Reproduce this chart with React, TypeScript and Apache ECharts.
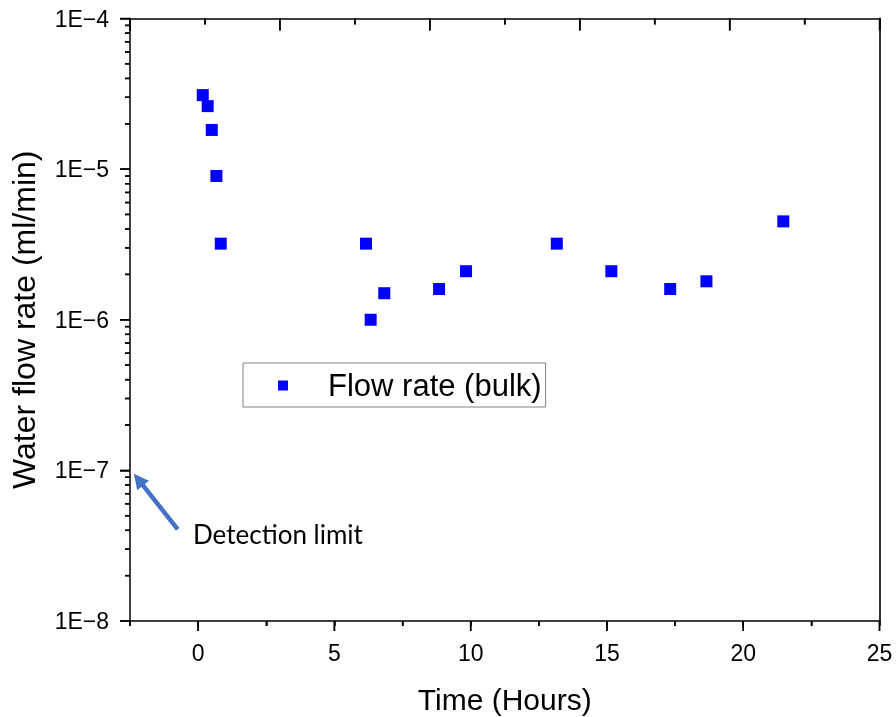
import React, { useEffect, useRef } from 'react';
import * as echarts from 'echarts';

// ---- data ----
const timeHours = [0.17, 0.35, 0.5, 0.67, 0.83, 6.16, 6.33, 6.83, 8.84, 9.83, 13.16, 15.16, 17.32, 18.65, 21.47];
const flowRate = [3.1e-5, 2.62e-5, 1.82e-5, 9.0e-6, 3.2e-6, 3.2e-6, 1.0e-6, 1.5e-6, 1.6e-6, 2.1e-6, 3.2e-6, 2.1e-6, 1.6e-6, 1.8e-6, 4.5e-6];
const seriesName = 'Flow rate (bulk)';
const xMajorTicks = [0, 5, 10, 15, 20, 25];
const xMinorTicks = [-2.5, 2.5, 7.5, 12.5, 17.5, 22.5];
const topMajorTicks = [0, 1, 2, 3, 4, 5];
const topMinorTicks = [0.5, 1.5, 2.5, 3.5, 4.5];
const yDecades = [1e-8, 1e-7, 1e-6, 1e-5, 1e-4];
const yMinorMultipliers = [2, 3, 4, 5, 6, 7, 8, 9];
const arrowTail = [-0.75, 4.06e-8];
const arrowTip = [-2.36, 9.5e-8];
const annotationText = 'Detection limit';

const FONT = '"Liberation Sans", Arial, sans-serif';
const X_MIN = -2.5;
const X_MAX = 25;
const Y_MIN = 1e-8;
const Y_MAX = 1e-4;

export default function App() {
  const ref = useRef<HTMLDivElement>(null);
  useEffect(() => {
    if (!ref.current) return;
    const chart = echarts.init(ref.current, null, { renderer: 'svg' });

    const yMinorValues: number[] = [];
    yDecades.slice(0, -1).forEach((d) => yMinorMultipliers.forEach((m) => yMinorValues.push(m * d)));

    const option: any = {
      animation: false,
      grid: { left: 130, right: 16.5, top: 18.5, bottom: 96, containLabel: false, outerBoundsMode: 'none' },
      legend: {
        data: [seriesName],
        left: 243,
        top: 363,
        icon: 'rect',
        itemWidth: 10,
        itemHeight: 10,
        borderColor: '#808080',
        borderWidth: 1,
        padding: [7, 4, 6, 35],
        textStyle: { fontSize: 31, color: '#000', fontFamily: FONT, padding: [0, 0, 0, 35] },
      },
      xAxis: [
        {
          type: 'value',
          position: 'bottom',
          min: X_MIN,
          max: X_MAX,
          interval: 2.5,
          name: 'Time (Hours)',
          nameLocation: 'middle',
          nameGap: 63,
          nameTextStyle: { fontSize: 30, color: '#000', fontFamily: FONT },
          axisLine: { show: true, onZero: false, lineStyle: { color: '#000', width: 1.5 } },
          axisTick: { show: true, inside: false, length: 5, lineStyle: { color: '#000', width: 1.5 } },
          axisLabel: {
            fontSize: 23,
            color: '#000',
            margin: 20,
            fontFamily: FONT,
            formatter: (v: number) => (xMajorTicks.indexOf(v) >= 0 ? String(v) : ''),
          },
          splitLine: { show: false },
        },
        {
          type: 'value',
          position: 'top',
          min: 0,
          max: 5,
          interval: 1,
          axisLine: { show: true, onZero: false, lineStyle: { color: '#000', width: 1.5 } },
          axisTick: { show: true, inside: true, length: 12, lineStyle: { color: '#000', width: 1.5 } },
          minorTick: { show: true, splitNumber: 2, length: 6, lineStyle: { color: '#000', width: 1.5 } },
          axisLabel: { show: false },
          splitLine: { show: false },
        },
      ],
      yAxis: [
        {
          type: 'log',
          logBase: 10,
          min: Y_MIN,
          max: Y_MAX,
          name: 'Water flow rate (ml/min)',
          nameLocation: 'middle',
          nameGap: 90,
          nameTextStyle: { fontSize: 32, color: '#000', fontFamily: FONT },
          axisLine: { show: true, onZero: false, lineStyle: { color: '#000', width: 1.5 } },
          axisTick: { show: true, inside: false, length: 10, lineStyle: { color: '#000', width: 1.5 } },
          axisLabel: {
            fontSize: 23,
            color: '#000',
            margin: 21,
            fontFamily: FONT,
            formatter: (v: number) => '1E\u2212' + Math.abs(Math.round(Math.log10(v))),
          },
          splitLine: { show: false },
        },
        {
          type: 'value',
          position: 'right',
          min: 0,
          max: 1,
          axisLine: { show: true, onZero: false, lineStyle: { color: '#333', width: 2 } },
          axisTick: { show: false },
          axisLabel: { show: false },
          splitLine: { show: false },
        },
      ],
      series: [
        {
          name: seriesName,
          type: 'scatter',
          xAxisIndex: 0,
          yAxisIndex: 0,
          symbol: 'rect',
          symbolSize: 12,
          itemStyle: { color: '#0000FF', opacity: 1 },
          data: timeHours.map((t, i) => [t, flowRate[i]]),
          z: 3,
        },
        {
          type: 'custom',
          silent: true,
          clip: false,
          xAxisIndex: 0,
          yAxisIndex: 0,
          data: yMinorValues.map((v) => [X_MIN, v]),
          renderItem: (_p: any, api: any) => {
            const p = api.coord([api.value(0), api.value(1)]);
            return {
              type: 'line',
              shape: { x1: p[0] - 5, y1: p[1], x2: p[0], y2: p[1] },
              style: { stroke: '#000', lineWidth: 1.5 },
            };
          },
          z: 2,
        },
        {
          type: 'custom',
          silent: true,
          clip: false,
          xAxisIndex: 0,
          yAxisIndex: 0,
          data: xMajorTicks.map((v) => [v, Y_MIN]),
          renderItem: (_p: any, api: any) => {
            const p = api.coord([api.value(0), api.value(1)]);
            return {
              type: 'line',
              shape: { x1: p[0], y1: p[1], x2: p[0], y2: p[1] + 10 },
              style: { stroke: '#000', lineWidth: 1.5 },
            };
          },
          z: 2,
        },
      ],
    };
    chart.setOption(option);

    const px = (v: number) => chart.convertToPixel({ xAxisIndex: 0 }, v) as number;
    const pxTop = (v: number) => chart.convertToPixel({ xAxisIndex: 1 }, v) as number;
    const py = (v: number) => chart.convertToPixel({ yAxisIndex: 0 }, v) as number;
    const xLeft = px(X_MIN);
    const yBottom = py(Y_MIN);
    const yTop = py(Y_MAX);
    const tick = (x1: number, y1: number, x2: number, y2: number) => ({
      type: 'line',
      shape: { x1: x1, y1: y1, x2: x2, y2: y2 },
      style: { stroke: '#000', lineWidth: 1.5 },
    });
    const graphics: any[] = [];
    xMajorTicks.forEach((v) => graphics.push(tick(px(v), yBottom, px(v), yBottom + 10)));
    xMinorTicks.forEach((v) => graphics.push(tick(px(v), yBottom, px(v), yBottom + 5)));
    topMajorTicks.forEach((v) => graphics.push(tick(pxTop(v), yTop, pxTop(v), yTop + 12)));
    topMinorTicks.forEach((v) => graphics.push(tick(pxTop(v), yTop, pxTop(v), yTop + 6)));
    yDecades.forEach((d) => graphics.push(tick(xLeft - 10, py(d), xLeft, py(d))));
    yMinorValues.forEach((v) => graphics.push(tick(xLeft - 5, py(v), xLeft, py(v))));

    // detection-limit arrow
    const tx = px(arrowTip[0]);
    const ty = py(arrowTip[1]);
    const sx = px(arrowTail[0]);
    const sy = py(arrowTail[1]);
    const len = Math.hypot(tx - sx, ty - sy);
    const ux = (tx - sx) / len;
    const uy = (ty - sy) / len;
    const headLen = 15;
    const headHalf = 7.5;
    const bx = tx - ux * headLen;
    const by = ty - uy * headLen;
    graphics.push({
      type: 'line',
      shape: { x1: sx, y1: sy, x2: bx + ux * 2, y2: by + uy * 2 },
      style: { stroke: '#4472C4', lineWidth: 4.5 },
    });
    graphics.push({
      type: 'polygon',
      shape: {
        points: [
          [tx, ty],
          [bx - uy * headHalf, by + ux * headHalf],
          [bx + uy * headHalf, by - ux * headHalf],
        ],
      },
      style: { fill: '#4472C4' },
    });
    graphics.push({
      type: 'text',
      left: 193,
      top: 521,
      style: { text: annotationText, font: '26px Lato, "Noto Sans", sans-serif', fill: '#000' },
    });
    chart.setOption({ graphic: graphics });

    return () => chart.dispose();
  }, []);
  return <div ref={ref} style={{ position: 'fixed', left: 0, top: 0, width: 896, height: 717 }} />;
}
